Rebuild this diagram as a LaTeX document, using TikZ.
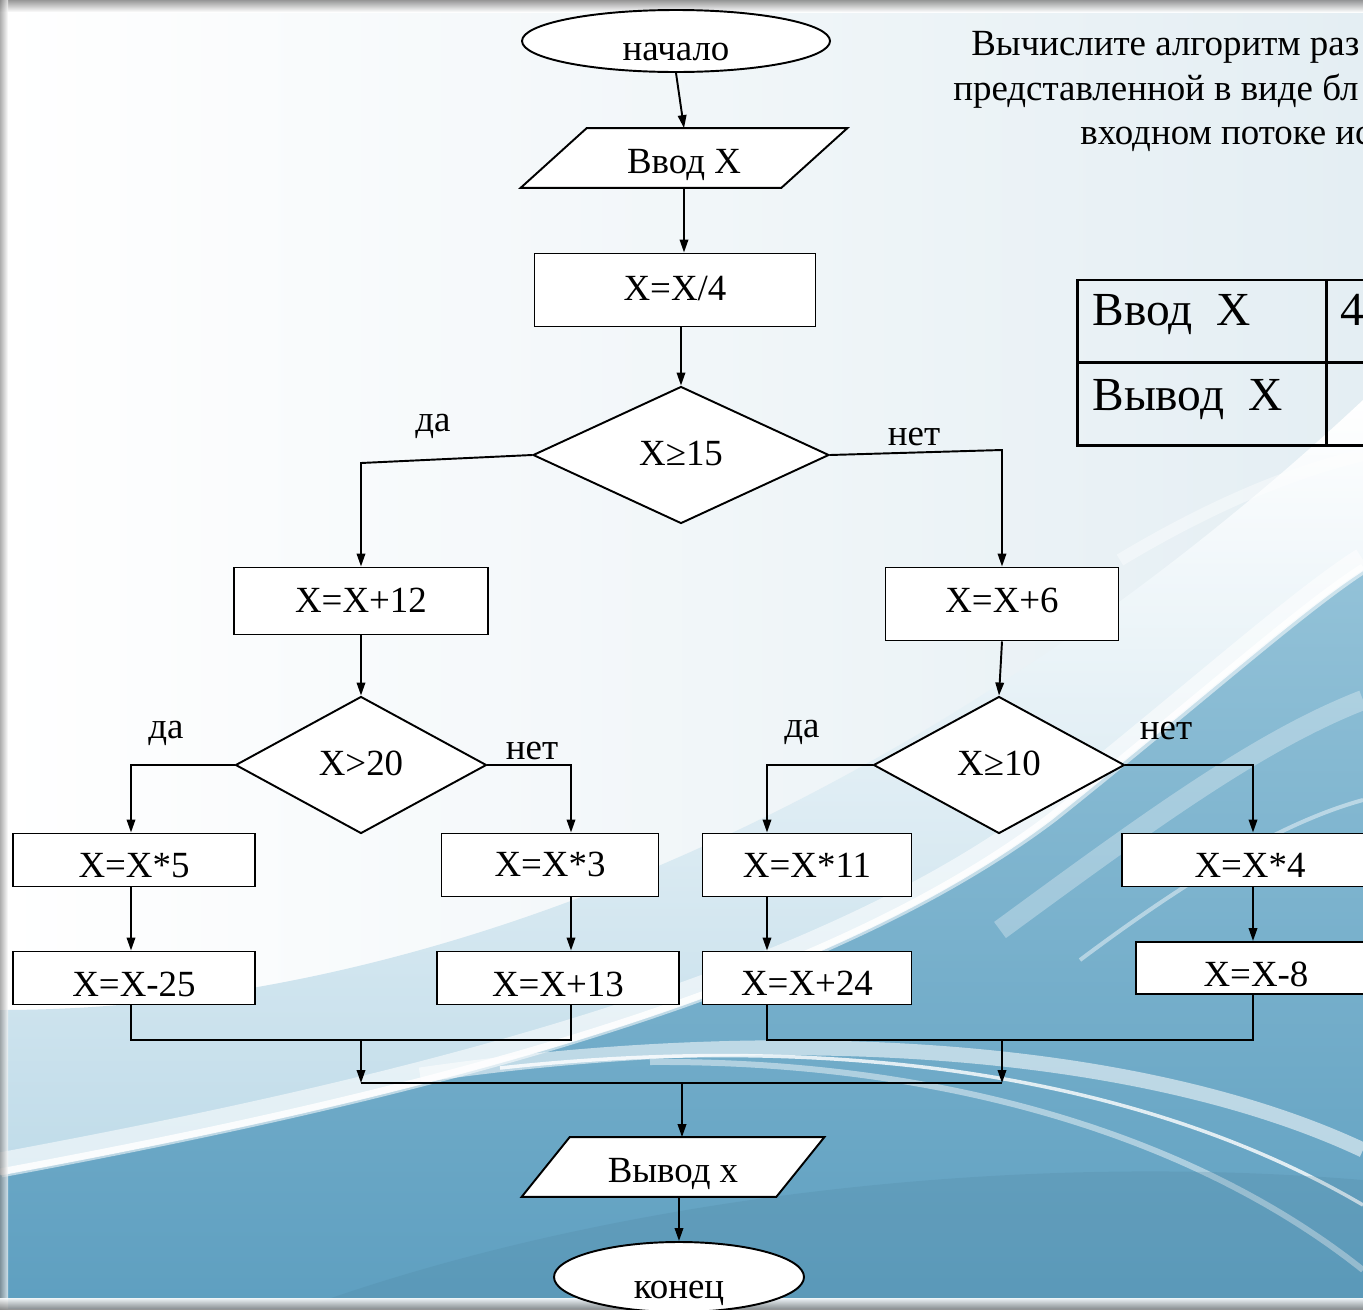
\documentclass[tikz,border=0pt]{standalone}
\usepackage{fontspec}
\setmainfont{Liberation Serif}
\usetikzlibrary{shapes.geometric,arrows.meta,calc}
\pgfdeclarelayer{back}
\pgfdeclarelayer{mid}
\pgfsetlayers{back,mid,main}

\definecolor{paperR}{HTML}{E4EEF3}
\definecolor{skyMid}{HTML}{B4D5E5}
\definecolor{skyA}{HTML}{93C2D8}
\definecolor{skyB}{HTML}{5E9FC0}
\definecolor{rim}{HTML}{8C8C8C}

\begin{document}
\begin{tikzpicture}[x=0.02cm,y=-0.02cm,
  chart/.style={font=\fontsize{21}{23}\selectfont},
  % tdrop: fixes the text box height (in px) so the baseline sits tdrop/2 below the centre
  tdrop/.style={text height=#1*0.02cm, text depth=0pt},
  flow/.style={chart, draw, line width=1.1pt, fill=white, inner sep=0pt},
  pbox/.style n args={3}{flow, rectangle, minimum width=#1*0.02cm, minimum height=#2*0.02cm, tdrop=#3},
  term/.style n args={3}{flow, ellipse, minimum width=#1*0.02cm, minimum height=#2*0.02cm, tdrop=#3},
  dec/.style n args={3}{flow, diamond, minimum width=#1*0.02cm, minimum height=#2*0.02cm, tdrop=#3},
  io/.style n args={3}{chart, inner sep=0pt, minimum width=#1*0.02cm, minimum height=#2*0.02cm, tdrop=#3},
  slantbox/.style={draw, line width=1.1pt, fill=white, line join=miter},
  lbl/.style={chart, inner sep=0pt, anchor=base},
  link/.style={line width=1.1pt},
  arr/.style={link, -{Triangle[length=0.26cm,width=0.17cm]}},
  head/.style={font=\fontsize{21}{23}\selectfont, inner sep=0pt, anchor=base west},
  cell/.style={font=\fontsize{27}{29}\selectfont, inner sep=0pt, anchor=base west}
]
\useasboundingbox (0,0) rectangle (1363,1309);
\clip (0,0) rectangle (1363,1309);

% ---------- backdrop ----------
\begin{pgfonlayer}{back}
  \shade[left color=white, right color=paperR] (0,0) rectangle (1363,1309);
  % pale sweep
  \shade[top color=white, bottom color=skyMid]
    (0,1010) .. controls (500,1010) and (1000,740) .. (1363,400)
    -- (1363,1309) -- (0,1309) -- cycle;
  % deep blue body
  \shade[top color=skyA, bottom color=skyB]
    (0,1175) .. controls (350,1110) and (800,1010) .. (1050,820)
    .. controls (1200,700) and (1300,610) .. (1363,570)
    -- (1363,1309) -- (0,1309) -- cycle;
  % bright edge of the swoosh
  \draw[white, opacity=0.55, line width=0.5cm]
    (0,1165) .. controls (350,1100) and (800,1000) .. (1050,810)
    .. controls (1200,690) and (1300,600) .. (1363,560);
  \draw[white, opacity=0.85, line width=0.14cm]
    (0,1172) .. controls (350,1107) and (800,1007) .. (1050,817)
    .. controls (1200,697) and (1300,607) .. (1363,567);
  % streaks fanning to the lower right
  \draw[white, opacity=0.55, line width=0.3cm]
    (420,1075) .. controls (800,1020) and (1150,1050) .. (1363,1150);
  \draw[white, opacity=0.8, line width=0.07cm]
    (500,1068) .. controls (850,1030) and (1150,1080) .. (1363,1205);
  \draw[white, opacity=0.45, line width=0.12cm]
    (650,1062) .. controls (950,1060) and (1200,1140) .. (1363,1270);
  \draw[white, opacity=0.3, line width=0.4cm]
    (1000,930) .. controls (1150,820) and (1260,740) .. (1363,700);
  \draw[white, opacity=0.45, line width=0.08cm]
    (1080,960) .. controls (1200,870) and (1290,820) .. (1363,800);
  \draw[white, opacity=0.4, line width=0.25cm]
    (1120,560) .. controls (1220,500) and (1300,470) .. (1363,455);
  \fill[skyB!80!black, opacity=0.2]
    (300,1309) .. controls (600,1200) and (1000,1150) .. (1363,1180) -- (1363,1309) -- cycle;
  % frame shading
  \shade[top color=rim, bottom color=white, opacity=0.9] (0,0) rectangle (1363,12);
  \shade[left color=rim, right color=white, opacity=0.7] (0,0) rectangle (8,1309);
  \shade[top color=white, bottom color=rim, opacity=0.9] (0,1298) rectangle (1363,1309);
\end{pgfonlayer}

% ---------- heading ----------
\node[head] (t1) at (971,55) {Вычислите алгоритм раз};
\node[head] (t2) at (953,100) {представленной в виде бл};
\node[head] (t3) at (1080,144) {входном потоке ис};

% ---------- data table ----------
\draw[line width=1.7pt] (1400,280) -- (1077,280) -- (1077,445) -- (1400,445);
\draw[line width=1.7pt] (1077,362) -- (1400,362);
\draw[line width=1.7pt] (1326,280) -- (1326,445);
\node[cell] (rin) at (1092,325) {Ввод\ \ X};
\node[cell] (rout) at (1092,410) {Вывод\ \ X};
\node[cell] (vin) at (1340,325) {4};

% ---------- flowchart blocks ----------
\node[term={308}{62}{38}] (start) at (676,41) {начало};
\node[io={260}{59}{31}] (in) at (684,158) {Ввод X};
\node[pbox={281}{73}{20}] (div) at (675,290) {X=X/4};
\node[dec={296}{137}{21}] (c15) at (681,455) {X≥15};
\node[pbox={254}{67}{23}] (p12) at (361,601) {X=X+12};
\node[pbox={233}{73}{16}] (p6) at (1002,604) {X=X+6};
\node[dec={251}{137}{20}] (c20) at (361,765) {X>20};
\node[dec={251}{137}{21}] (c10) at (999,765) {X≥10};
\node[pbox={242}{53}{35}] (m5) at (134,860) {X=X*5};
\node[pbox={217}{63}{23}] (m3) at (550,865) {X=X*3};
\node[pbox={209}{63}{25}] (m11) at (807,865) {X=X*11};
\node[pbox={256}{53}{35}] (m4) at (1250,860) {X=X*4};
\node[pbox={242}{53}{37}] (s25) at (134,978) {X=X-25};
\node[pbox={242}{53}{37}] (a13) at (558,978) {X=X+13};
\node[pbox={209}{53}{35}] (a24) at (807,978) {X=X+24};
\node[pbox={240}{52}{37}] (s8) at (1256,968) {X=X-8};
\node[io={254}{59}{30}] (out) at (673,1167) {Вывод x};
\node[term={250}{70}{43}] (stop) at (679,1277) {конец};

% input/output parallelograms behind their texts
\begin{pgfonlayer}{mid}
  \draw[slantbox] ($(in.south west)+(-33,0)$) -- ($(in.north west)+(33,0)$)
    -- ($(in.north east)+(33,0)$) -- ($(in.south east)+(-33,0)$) -- cycle;
  \draw[slantbox] ($(out.south west)+(-24,0)$) -- ($(out.north west)+(24,0)$)
    -- ($(out.north east)+(24,0)$) -- ($(out.south east)+(-24,0)$) -- cycle;
\end{pgfonlayer}

% branch labels
\node[lbl] (yes1) at (433,431) {да};
\node[lbl] (no1) at (914,445) {нет};
\node[lbl] (yes2) at (166,738) {да};
\node[lbl] (no2) at (532,759) {нет};
\node[lbl] (yes3) at (802,737) {да};
\node[lbl] (no3) at (1166,739) {нет};

% ---------- connectors ----------
\coordinate (L1) at (131,0);
\coordinate (L2) at (571,0);
\coordinate (R1) at (767,0);
\coordinate (R2) at (1253,0);
\coordinate (jl) at (361,1040);
\coordinate (jr) at (1002,1040);
\coordinate (kl) at (361,1083);
\coordinate (kr) at (1002,1083);
\coordinate (jm) at (682,1083);

\draw[arr] (start.south) -- (in.north);
\draw[arr] (in.south) -- (in.south |- div.north);
\draw[arr] (div.south -| c15.north) -- (c15.north);
\draw[arr] (c15.west) -- (361,463) -- (p12.north);
\draw[arr] (c15.east) -- (1002,450) -- (p6.north);
\draw[arr] (p12.south) -- (c20.north);
\draw[arr] (p6.south) -- (c10.north);

\draw[arr] (c20.west) -- (c20.west -| L1) -- (m5.north -| L1);
\draw[arr] (c20.east) -- (c20.east -| L2) -- (m3.north -| L2);
\draw[arr] (c10.west) -- (c10.west -| R1) -- (m11.north -| R1);
\draw[arr] (c10.east) -- (c10.east -| R2) -- (m4.north -| R2);

\draw[arr] (m5.south -| L1) -- (s25.north -| L1);
\draw[arr] (m3.south -| L2) -- (a13.north -| L2);
\draw[arr] (m11.south -| R1) -- (a24.north -| R1);
\draw[arr] (m4.south -| R2) -- (s8.north -| R2);

\draw[link] (s25.south -| L1) -- (L1 |- jl) -- (L2 |- jl) -- (a13.south -| L2);
\draw[link] (a24.south -| R1) -- (R1 |- jr) -- (R2 |- jr) -- (s8.south -| R2);
\draw[arr] (jl) -- (kl);
\draw[arr] (jr) -- (kr);
\draw[link] (kl) -- (kr);
\draw[arr] (jm) -- (jm |- out.north);
\draw[arr] (out.south -| stop.north) -- (stop.north);
\end{tikzpicture}
\end{document}
